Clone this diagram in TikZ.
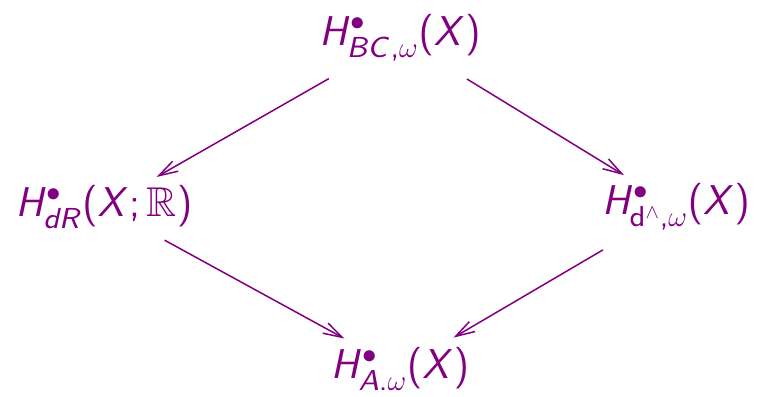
\documentclass[tikz,border=0pt]{standalone}
\usepackage{amssymb}
\usetikzlibrary{arrows.meta}
% sans serif math, wide small sizes
\DeclareFontFamily{OT1}{cmssx}{\hyphenchar\font45}
\DeclareFontShape{OT1}{cmssx}{m}{n}{<-20> cmss8 <20-> cmss17}{}
\DeclareFontShape{OT1}{cmssx}{m}{sl}{<-20> cmssi8 <20-> cmssi17}{}
\DeclareSymbolFont{operators}{OT1}{cmssx}{m}{n}
\DeclareSymbolFont{letters}{OT1}{cmssx}{m}{sl}
\DeclareSymbolFont{greekletters}{OML}{cmm}{m}{it}
\DeclareMathSymbol{\omega}{\mathord}{greekletters}{"21}
\DeclareMathSymbol{,}{\mathpunct}{operators}{"2C}
\DeclareMathSymbol{.}{\mathord}{operators}{"2E}
\DeclareMathSizes{24.88}{24.88}{17.28}{12}
\definecolor{cohompurple}{RGB}{128,0,128}
\tikzset{
  grp/.style={text=cohompurple, font=\Huge, inner sep=0pt},
  map/.style={draw=cohompurple, line width=0.9pt, -{Straight Barb[length=4mm,width=2.4mm]}}
}
\begin{document}
\begin{tikzpicture}[x=0.021cm, y=-0.021cm]
        \useasboundingbox (0,0) rectangle (764,396);
        % Nodes
        \node[grp] (bc) at (400,38) {$H^{\bullet}_{BC,\omega}(X)$};
        \node[grp] (dr) at (104,207) {$H^{\bullet}_{dR}(X;\mathbb{R})$};
        \node[grp] (dl) at (676,207) {$H^{\bullet}_{\mathrm{d}^{\wedge},\omega}(X)$};
        \node[grp] (ae) at (400,369) {$H^{\bullet}_{A.\omega}(X)$};
        % Arrows
        \draw[map, shorten <=0.72cm, shorten >=0.35cm] (bc) -- (dr);
        \draw[map, shorten <=0.7cm, shorten >=0.33cm] (bc) -- (dl);
        \draw[map, shorten <=0.5cm, shorten >=0.38cm] (dr) -- (ae);
        \draw[map, shorten <=0.8cm, shorten >=0.4cm] (dl) -- (ae);
\end{tikzpicture}
\end{document}
